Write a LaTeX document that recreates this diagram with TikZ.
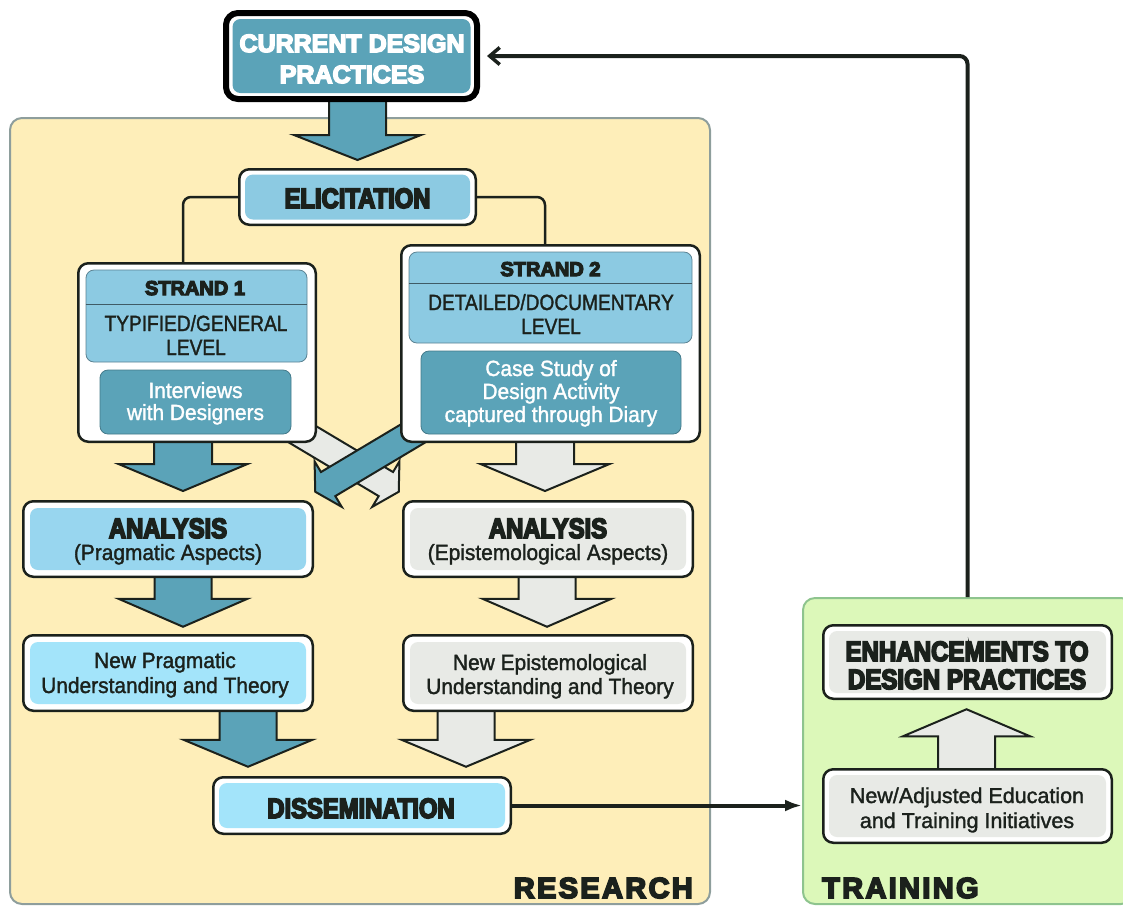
\documentclass[tikz,border=0pt]{standalone}
\usepackage{fontspec}
\setmainfont{Liberation Sans}
\newfontfamily\hcond[FakeStretch=0.85,BoldFeatures={FakeBold=6}]{Liberation Sans}
\newfontfamily\hwide[BoldFeatures={FakeBold=6}]{Liberation Sans}
\newfontfamily\hwidec[FakeStretch=0.86,BoldFeatures={FakeBold=6}]{Liberation Sans}
\newfontfamily\hspaced[LetterSpace=8,BoldFeatures={FakeBold=6}]{Liberation Sans}
\newfontfamily\bodyf[FakeStretch=0.95,UprightFeatures={FakeBold=1.5}]{Liberation Sans}
\newfontfamily\bodycaps[FakeStretch=0.87,UprightFeatures={FakeBold=1.5}]{Liberation Sans}
\newfontfamily\bodyn[UprightFeatures={FakeBold=1.5}]{Liberation Sans}
\usetikzlibrary{calc,arrows.meta}
\pgfdeclarelayer{back}
\pgfdeclarelayer{mid}
\pgfsetlayers{back,mid,main}

\definecolor{ink}{HTML}{1B211C}
\definecolor{cteal}{HTML}{5BA3B8}
\definecolor{chead}{HTML}{8CCAE2}
\definecolor{canal}{HTML}{98D6EF}
\definecolor{cnew}{HTML}{A3E4FA}
\definecolor{cgray}{HTML}{E8EAE6}
\definecolor{cresearch}{HTML}{FEEEB9}
\definecolor{cresline}{HTML}{8E9E9C}
\definecolor{ctrain}{HTML}{DCF8B9}
\definecolor{ctrainline}{HTML}{8EC48E}

\begin{document}
\begin{tikzpicture}[x=1pt,y=1pt,
  outerbox/.style={draw=ink, line width=2.5, fill=white, rounded corners=10, inner sep=0},
  innerbox/.style={fill=#1, rounded corners=8, inner sep=0},
  headbox/.style={fill=chead, draw=chead!65!black, line width=0.8, rounded corners=8, inner sep=0},
  tealbox/.style={fill=cteal, draw=cteal!75!black, line width=0.8, rounded corners=8, inner sep=0},
  divider/.style={draw=chead!45!black, line width=1},
  link/.style={draw=ink, line width=2.5, rounded corners=8},
  fa/.style={draw=ink, line width=2, fill=#1, line join=miter},
  fatshape/.style n args={3}{to path={
    let \p1=(\tikztostart), \p2=(\tikztotarget),
        \n1={atan2(\y2-\y1,\x2-\x1)},
        \n2={veclen(\x2-\x1,\y2-\y1)-#3}
    in ($(\p1)+(\n1+90:#1)$) -- ($(\p1)+(\n1:\n2)+(\n1+90:#1)$)
    -- ($(\p1)+(\n1:\n2)+(\n1+90:#2)$) -- (\p2)
    -- ($(\p1)+(\n1:\n2)+(\n1-90:#2)$) -- ($(\p1)+(\n1:\n2)+(\n1-90:#1)$)
    -- ($(\p1)+(\n1-90:#1)$) -- cycle}},
  hd/.style={anchor=base, inner sep=0, text=ink, font=\hcond\bfseries\fontsize{28}{30}\selectfont},
  wd/.style={anchor=base, inner sep=0, text=ink, font=\hwide\bfseries\fontsize{#1}{#1}\selectfont},
  bd/.style={anchor=base, inner sep=0, text=ink, font=\bodyf\fontsize{22}{24}\selectfont},
  bc/.style={anchor=base, inner sep=0, text=ink, font=\bodycaps\fontsize{22}{24}\selectfont},
  bn/.style={anchor=base, inner sep=0, text=ink, font=\bodyn\fontsize{21.5}{24}\selectfont},
  sp/.style={inner sep=0, text=ink, font=\hspaced\bfseries\fontsize{29}{30}\selectfont}
]
\path[use as bounding box] (0,0) rectangle (1123,-906);
\clip (0,0) rectangle (1123,-906);

% ---- the two areas ----
\begin{pgfonlayer}{back}
  \node[draw=cresline, line width=2, fill=cresearch, rounded corners=12,
        minimum width=700, minimum height=786, inner sep=0] (research) at (360,-511) {};
  \node[draw=ctrainline, line width=2, fill=ctrain, rounded corners=12,
        minimum width=330, minimum height=306, inner sep=0] (training) at (968,-751) {};
\end{pgfonlayer}

% ---- boxes ----
\node[draw=black, line width=6, fill=white, rounded corners=12,
      minimum width=251, minimum height=86, inner sep=0] (cdp) at (351.5,-56) {};
\node[innerbox=cteal, minimum width=238, minimum height=74] (cdpi) at (cdp) {};

\node[outerbox, minimum width=236.5, minimum height=55.5] (eli) at (357.5,-197) {};
\node[innerbox=chead, minimum width=225, minimum height=45] (elii) at (eli) {};

\node[outerbox, minimum width=237.5, minimum height=178.5] (s1) at (197,-352.5) {};
\node[headbox, minimum width=221, minimum height=92] (s1h) at (196.5,-316) {};
\node[tealbox, minimum width=191, minimum height=64] (s1m) at (195.5,-402) {};
\draw[divider] ([yshift=12]s1h.west) -- ([yshift=12]s1h.east);

\node[outerbox, minimum width=298.5, minimum height=196.5] (s2) at (550.5,-343.5) {};
\node[headbox, minimum width=283, minimum height=91] (s2h) at (550.5,-297.5) {};
\node[tealbox, minimum width=260, minimum height=83] (s2m) at (551,-392.5) {};
\draw[divider] ([yshift=14.5]s2h.west) -- ([yshift=14.5]s2h.east);

\node[outerbox, minimum width=289.5, minimum height=75.5] (an1) at (168,-539) {};
\node[innerbox=canal, minimum width=276, minimum height=62] (an1i) at (an1) {};
\node[outerbox, minimum width=289.5, minimum height=75.5] (an2) at (548,-539) {};
\node[innerbox=cgray, minimum width=276, minimum height=62] (an2i) at (an2) {};

\node[outerbox, minimum width=289.5, minimum height=75.5] (np1) at (168,-673) {};
\node[innerbox=cnew, minimum width=276, minimum height=62] (np1i) at (np1) {};
\node[outerbox, minimum width=289.5, minimum height=75.5] (np2) at (548,-673) {};
\node[innerbox=cgray, minimum width=276, minimum height=62] (np2i) at (np2) {};

\node[outerbox, minimum width=297.5, minimum height=56.5] (dis) at (362,-805.5) {};
\node[innerbox=cnew, minimum width=286, minimum height=45] (disi) at (dis) {};

\node[outerbox, minimum width=288.5, minimum height=73.5] (enh) at (967.5,-662) {};
\node[innerbox=cgray, minimum width=277, minimum height=62] (enhi) at (enh) {};
\node[outerbox, minimum width=288.5, minimum height=73.5] (nae) at (967.5,-806) {};
\node[innerbox=cgray, minimum width=277, minimum height=62] (naei) at (nae) {};

% ---- end points of the broad arrows ----
\coordinate (f1a) at ($(cdp.south -| eli.north)+(0,4)$);
\coordinate (f1b) at ($(eli.north)+(0,8)$);
\coordinate (f2a) at ($(s1.south)+(-14,6)$);
\coordinate (f2b) at ($(an1.north)+(15,9)$);
\coordinate (f3a) at ($(s2.south)+(-5.5,6)$);
\coordinate (f3b) at ($(an2.north)+(-3,9)$);
\coordinate (f4a) at ($(s1.south east)+(-39.75,23.75)$);
\coordinate (f4b) at ($(an2.north west)+(-3.25,8.25)$);
\coordinate (f5a) at ($(s2.south west)+(36.75,23.75)$);
\coordinate (f5b) at ($(an1.north east)+(1.25,8.25)$);
\coordinate (f6a) at ($(an1.south)+(15,6)$);
\coordinate (f6b) at ($(np1.north)+(15,7.25)$);
\coordinate (f7a) at ($(an2.south)+(-1,6)$);
\coordinate (f7b) at ($(np2.north)+(-1,7.25)$);
\coordinate (f8a) at ($(np1.south)+(80,6)$);
\coordinate (f8b) at ($(dis.north)+(-114,9.25)$);
\coordinate (f9a) at ($(np2.south)+(-82,6)$);
\coordinate (f9b) at ($(dis.north)+(104,9.25)$);
\coordinate (f10a) at ($(nae.north)+(-1,-6)$);
\coordinate (f10b) at ($(enh.south)+(-1,-9.25)$);

% ---- connectors ----
\begin{pgfonlayer}{mid}
  \draw[link] (eli.west) -| ([xshift=-14]s1.north);
  \draw[link] (eli.east) -| ([xshift=-5.5]s2.north);
  \draw[link, line width=4, -{Straight Barb[length=10pt,width=17pt,line width=3.5pt]}]
    (enh.north |- training.north) |- ([xshift=7]cdp.east);
  \draw[link, line width=4, -{Latex[length=17pt,width=12pt]}]
    (dis.east) -- (dis.east -| training.west);

  \draw[fa=cteal, fatshape={28.5}{63.5}{25}] (f1a) to (f1b);
  \draw[fa=cteal, fatshape={29}{64.5}{27}] (f2a) to (f2b);
  \draw[fa=cgray, fatshape={29}{64.5}{27}] (f3a) to (f3b);
  \draw[fa=cgray, fatshape={14}{26.5}{15}] (f4a) to (f4b);
  \draw[fa=cteal, fatshape={14}{26.5}{15}] (f5a) to (f5b);
  \draw[fa=cteal, fatshape={28.5}{64.5}{28}] (f6a) to (f6b);
  \draw[fa=cgray, fatshape={28.5}{64.5}{28}] (f7a) to (f7b);
  \draw[fa=cteal, fatshape={28.5}{64.5}{27}] (f8a) to (f8b);
  \draw[fa=cgray, fatshape={28.5}{64.5}{27}] (f9a) to (f9b);
  \draw[fa=cgray, fatshape={28.5}{63.5}{27}] (f10a) to (f10b);
\end{pgfonlayer}

% ---- texts ----
\node[wd=25, text=white] (cdpt1) at (352,-52) {CURRENT DESIGN};
\node[wd=25, text=white] (cdpt2) at (352,-83) {PRACTICES};
\node[hd] (elit) at (357.5,-208) {ELICITATION};

\node[wd=20] (s1t1) at (195,-295) {STRAND 1};
\node[bc] (s1t2) at (196,-331) {TYPIFIED/GENERAL};
\node[bc] (s1t3) at (196,-355) {LEVEL};
\node[bd, text=white] (s1t4) at (195.5,-398) {Interviews};
\node[bd, text=white] (s1t5) at (195.5,-420) {with Designers};

\node[wd=20] (s2t1) at (550.5,-276) {STRAND 2};
\node[bc] (s2t2) at (551,-310) {DETAILED/DOCUMENTARY};
\node[bc] (s2t3) at (551,-334) {LEVEL};
\node[bd, text=white] (s2t4) at (551,-376) {Case Study of};
\node[bd, text=white] (s2t5) at (551,-399) {Design Activity};
\node[bd, text=white] (s2t6) at (551,-422) {captured through Diary};

\node[hd] (an1t1) at (168,-538) {ANALYSIS};
\node[bd] (an1t2) at (168,-560) {(Pragmatic Aspects)};
\node[hd] (an2t1) at (548,-538) {ANALYSIS};
\node[bd] (an2t2) at (548,-560) {(Epistemological Aspects)};

\node[bd] (np1t1) at (165,-668) {New Pragmatic};
\node[bd] (np1t2) at (165,-693) {Understanding and Theory};
\node[bd] (np2t1) at (550,-670) {New Epistemological};
\node[bd] (np2t2) at (550,-694) {Understanding and Theory};

\node[hd] (dist) at (361,-818) {DISSEMINATION};

\node[anchor=base, inner sep=0, text=ink, font=\hwidec\bfseries\fontsize{28}{30}\selectfont] (enht1) at (967,-661) {ENHANCEMENTS TO};
\node[anchor=base, inner sep=0, text=ink, font=\hwidec\bfseries\fontsize{28}{30}\selectfont] (enht2) at (967,-689) {DESIGN PRACTICES};
\node[bn] (naet1) at (967,-803) {New/Adjusted Education};
\node[bn] (naet2) at (967,-828) {and Training Initiatives};

\node[sp, anchor=base east] (reslab) at (693,-898) {RESEARCH};
\node[sp, anchor=base west] (trlab) at (822,-898) {TRAINING};
\end{tikzpicture}
\end{document}
